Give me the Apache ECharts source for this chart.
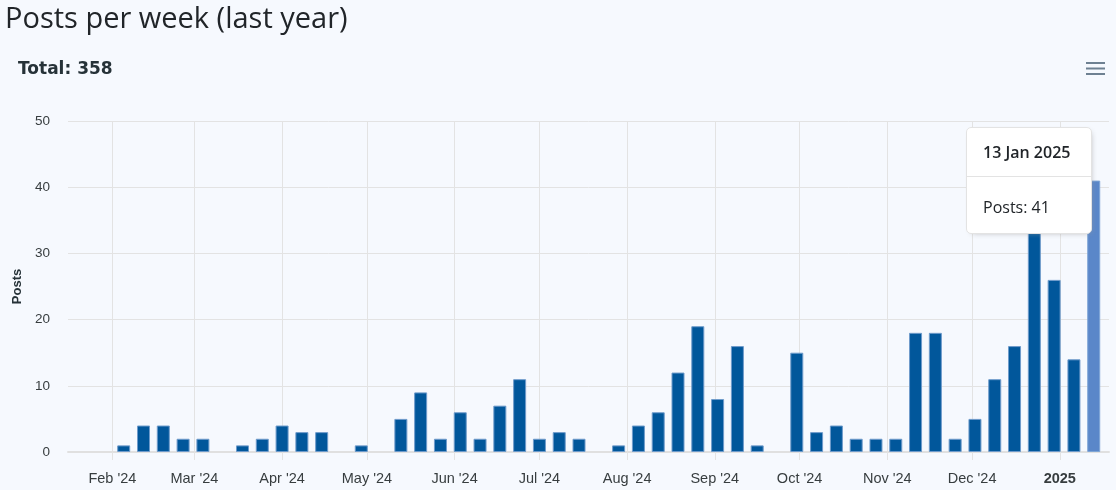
<!DOCTYPE html>
<html>
<head>
<meta charset="utf-8">
<script src="https://cdn.jsdelivr.net/npm/echarts@6/dist/echarts.min.js"></script>
<style>
html,body{margin:0;padding:0;background:#f6f9fe;}
#chart{width:1116px;height:490px;}
</style>
</head>
<body>
<div id="chart"></div>
<script>
// ---- data ----
const weeks = ['2024-02-05','2024-02-12','2024-02-19','2024-02-26','2024-03-04','2024-03-11','2024-03-18','2024-03-25',
  '2024-04-01','2024-04-08','2024-04-15','2024-04-22','2024-04-29','2024-05-06','2024-05-13','2024-05-20','2024-05-27',
  '2024-06-03','2024-06-10','2024-06-17','2024-06-24','2024-07-01','2024-07-08','2024-07-15','2024-07-22','2024-07-29',
  '2024-08-05','2024-08-12','2024-08-19','2024-08-26','2024-09-02','2024-09-09','2024-09-16','2024-09-23','2024-09-30',
  '2024-10-07','2024-10-14','2024-10-21','2024-10-28','2024-11-04','2024-11-11','2024-11-18','2024-11-25',
  '2024-12-02','2024-12-09','2024-12-16','2024-12-23','2024-12-30','2025-01-06','2025-01-13'];
const posts = [1,4,4,2,2,0,1,2,
  4,3,3,0,1,0,5,9,2,
  6,2,7,11,2,3,2,0,1,
  4,6,12,19,8,16,1,0,15,
  3,4,2,2,2,18,18,2,
  5,11,16,36,26,14,41];
const monthTicks = ['2024-02-01','2024-03-01','2024-04-01','2024-05-01','2024-06-01','2024-07-01','2024-08-01',
  '2024-09-01','2024-10-01','2024-11-01','2024-12-01','2025-01-01'];
const xRange = ['2024-01-16','2025-01-18'];
const monthNames = ['Jan','Feb','Mar','Apr','May','Jun','Jul','Aug','Sep','Oct','Nov','Dec'];

const DAY = 86400000;
function ts(s){ const p = s.split('-').map(Number); return Date.UTC(p[0], p[1]-1, p[2]); }
const total = posts.reduce((a,b)=>a+b,0);
const seriesData = weeks.map((w,i)=>{
  const item = {value:[ts(w), posts[i]]};
  if (posts[i] === 0) item.itemStyle = {borderWidth:0};
  return item;
});
const tickVals = monthTicks.map(ts);
const tipIndex = posts.length - 1;

function fmtDate(t){
  const d = new Date(t);
  return d.getUTCDate() + ' ' + monthNames[d.getUTCMonth()] + ' ' + d.getUTCFullYear();
}

const chart = echarts.init(document.getElementById('chart'), null, {renderer:'canvas'});
chart.setOption({
  animation:false,
  backgroundColor:'#f6f9fe',
  title:[
    {text:'Posts per week (last year)', left:0, top:0,
     textStyle:{fontFamily:'Open Sans', fontSize:29, fontWeight:'normal', color:'#212529'}},
    {text:'Total: ' + total, left:13, top:56,
     textStyle:{fontFamily:'DejaVu Sans', fontSize:17, fontWeight:'bold', color:'#263238'}}
  ],
  grid:{left:68, right:7, top:121, bottom:38, containLabel:false},
  tooltip:{
    trigger:'item',
    alwaysShowContent:true,
    padding:0,
    borderWidth:1,
    borderColor:'#e3e3e3',
    backgroundColor:'#ffffff',
    extraCssText:'border-radius:5px;box-shadow:2px 2px 6px -4px #999;',
    position:function(){ return [966,127]; },
    formatter:function(p){
      return '<div style="font-family:Open Sans;color:#212529;width:124px">'+
        '<div style="font-size:16px;font-weight:600;line-height:20px;padding:14px 0 0 16px;height:34px;border-bottom:1px solid #e3e3e3;">'+fmtDate(p.value[0])+'</div>'+
        '<div style="font-size:16px;line-height:20px;padding:20px 0 0 16px;height:36px;">Posts: '+p.value[1]+'</div></div>';
    }
  },
  xAxis:{
    type:'value',
    min:ts(xRange[0]) + 0.3*DAY,
    max:ts(xRange[1]) + 0.4*DAY,
    axisLine:{show:true, onZero:false, lineStyle:{color:'#e0e0e0', width:2}},
    axisTick:{show:true, length:8, customValues:tickVals, lineStyle:{color:'#e3e3e3'}},
    splitLine:{show:true, lineStyle:{color:'#e3e3e3', width:1}},
    axisLabel:{
      customValues:tickVals,
      margin:19,
      fontFamily:'Liberation Sans', fontSize:14.5, color:'#373d3f',
      formatter:function(v){
        const d = new Date(v);
        if (d.getUTCMonth()===0) return '{b|' + d.getUTCFullYear() + '}';
        return monthNames[d.getUTCMonth()] + " '" + String(d.getUTCFullYear()).slice(2);
      },
      rich:{b:{fontFamily:'Liberation Sans', fontSize:14.5, fontWeight:'bold', color:'#373d3f'}}
    }
  },
  yAxis:{
    type:'value',
    min:0, max:50, interval:10,
    name:'Posts',
    nameLocation:'middle',
    nameGap:43,
    nameRotate:90,
    nameTextStyle:{fontFamily:'Liberation Sans', fontSize:13, fontWeight:'bold', color:'#263238'},
    axisLine:{show:false},
    axisTick:{show:false},
    splitLine:{lineStyle:{color:'#e3e3e3'}},
    axisLabel:{fontFamily:'Liberation Sans', fontSize:13.5, color:'#373d3f', margin:18, padding:[0,0,3,0]}
  },
  series:[{
    type:'bar',
    data:seriesData,
    barWidth:13,
    itemStyle:{color:'#01579b', borderColor:'#6f9bcb', borderWidth:1},
    emphasis:{itemStyle:{color:'#5a87c9', borderColor:'#7fa6d6'}}
  }],
  graphic:[
    {type:'rect', shape:{x:1086,y:62,width:19,height:2}, style:{fill:'#6e8192'}},
    {type:'rect', shape:{x:1086,y:67.5,width:19,height:2}, style:{fill:'#6e8192'}},
    {type:'rect', shape:{x:1086,y:73,width:19,height:2}, style:{fill:'#6e8192'}}
  ]
});
chart.dispatchAction({type:'highlight', seriesIndex:0, dataIndex:tipIndex});
chart.dispatchAction({type:'showTip', seriesIndex:0, dataIndex:tipIndex});
</script>
</body>
</html>
